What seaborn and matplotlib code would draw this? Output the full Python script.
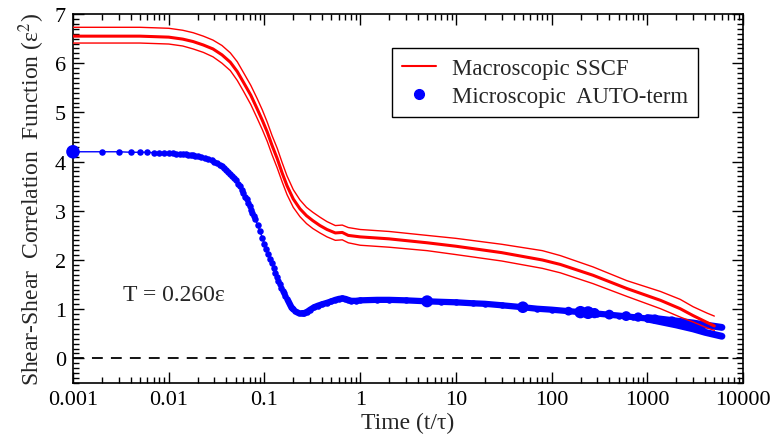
import numpy as np
import pandas as pd
import matplotlib
matplotlib.use("Agg")
import matplotlib.pyplot as plt
from matplotlib.ticker import LogLocator, MultipleLocator, FixedLocator, FixedFormatter, NullFormatter
from matplotlib.lines import Line2D
import seaborn as sns

# ---------------- data ----------------
red_t = [0.001, 0.005, 0.01, 0.014, 0.018, 0.023, 0.029, 0.036, 0.044, 0.052, 0.06, 0.072,
         0.084, 0.095, 0.107, 0.12, 0.136, 0.153, 0.172, 0.2,
         0.235, 0.275, 0.32, 0.38, 0.45, 0.55, 0.65, 0.75, 1, 2, 5, 10, 30, 80, 123, 270, 610,
         1370, 2200, 3000, 4200, 5000]
red_mid = [6.55, 6.55, 6.53, 6.49, 6.44, 6.37, 6.29, 6.17, 6.02, 5.83, 5.62, 5.35,
           5.07, 4.84, 4.60, 4.33, 4.06, 3.77, 3.51, 3.24,
           3.04, 2.90, 2.80, 2.70, 2.62, 2.55, 2.56, 2.50, 2.47, 2.43, 2.35, 2.28, 2.15, 2.00, 1.91, 1.69, 1.42,
           1.18, 1.01, 0.87, 0.73, 0.66]
red_up = [6.73, 6.73, 6.71, 6.67, 6.62, 6.55, 6.47, 6.36, 6.21, 6.03, 5.82, 5.55,
          5.28, 5.05, 4.80, 4.53, 4.27, 3.98, 3.71, 3.43,
          3.22, 3.07, 2.97, 2.87, 2.78, 2.70, 2.71, 2.66, 2.62, 2.58, 2.50, 2.44, 2.32, 2.19, 2.09, 1.86, 1.58,
          1.36, 1.20, 1.05, 0.92, 0.86]
red_lo = [6.41, 6.41, 6.39, 6.35, 6.29, 6.22, 6.13, 6.00, 5.85, 5.65, 5.44, 5.16,
          4.88, 4.65, 4.41, 4.14, 3.87, 3.59, 3.33, 3.07,
          2.88, 2.74, 2.64, 2.55, 2.47, 2.40, 2.41, 2.35, 2.30, 2.26, 2.19, 2.11, 1.98, 1.83, 1.74, 1.52, 1.26,
          1.01, 0.84, 0.74, 0.62, 0.57]

auto_t = [0.001, 0.002, 0.003, 0.004, 0.005, 0.006, 0.007, 0.008, 0.009,
          0.010, 0.011, 0.012, 0.013, 0.014, 0.015, 0.016, 0.017, 0.018, 0.019, 0.020,
          0.022, 0.024, 0.026, 0.028, 0.030, 0.032, 0.034, 0.036,
          0.038, 0.040, 0.042, 0.044, 0.046, 0.048, 0.050, 0.053, 0.055, 0.058, 0.060,
          0.063, 0.065, 0.068, 0.070, 0.073, 0.075, 0.078, 0.080, 0.085,
          0.09, 0.095, 0.10, 0.105, 0.11, 0.115, 0.12, 0.125, 0.13, 0.135, 0.14, 0.145,
          0.15, 0.155, 0.16, 0.165, 0.17, 0.175, 0.18, 0.185, 0.19, 0.195, 0.20, 0.21,
          0.22, 0.23, 0.24, 0.25, 0.26, 0.28, 0.30, 0.33, 0.36, 0.40, 0.45, 0.50, 0.55, 0.60,
          0.65, 0.70, 0.75, 0.80, 0.90, 1.0, 1.5, 2, 3, 5, 7, 10, 15, 20, 30, 50,
          70, 100, 150, 200, 300, 500, 700, 1000]
auto_v = [4.20, 4.20, 4.20, 4.19, 4.19, 4.19, 4.18, 4.18, 4.18,
          4.17, 4.17, 4.16, 4.16, 4.15, 4.15, 4.14, 4.13, 4.13, 4.12, 4.11,
          4.10, 4.08, 4.06, 4.03, 4.00, 3.97, 3.94, 3.91,
          3.87, 3.83, 3.79, 3.75, 3.71, 3.67, 3.62, 3.55, 3.50, 3.42, 3.37,
          3.29, 3.24, 3.16, 3.10, 3.02, 2.96, 2.89, 2.84, 2.71,
          2.58, 2.45, 2.33, 2.23, 2.13, 2.03, 1.93, 1.83, 1.74, 1.66, 1.58, 1.51,
          1.44, 1.38, 1.32, 1.26, 1.21, 1.16, 1.12, 1.08, 1.05, 1.02, 1.00, 0.97,
          0.95, 0.93, 0.92, 0.92, 0.92, 0.95, 0.99, 1.04, 1.07, 1.10, 1.13, 1.16, 1.19, 1.21,
          1.22, 1.21, 1.19, 1.17, 1.17, 1.18, 1.19, 1.19, 1.18, 1.16, 1.15, 1.14, 1.12, 1.11, 1.08, 1.04,
          1.01, 0.99, 0.96, 0.94, 0.91, 0.87, 0.84, 0.81]
tail_t = [1000, 2000, 3000, 4000, 6000]
tail_up = [0.83, 0.76, 0.72, 0.68, 0.63]
tail_lo = [0.80, 0.68, 0.60, 0.53, 0.45]
big_t = [0.001, 5, 50, 150, 200, 240, 280, 400, 600, 800, 1200, 1800]
big_v = [4.20, 1.16, 1.04, 0.96, 0.94, 0.93, 0.92, 0.89, 0.86, 0.84, 0.80, 0.76]
big_s = [95, 75, 70, 40, 80, 85, 55, 50, 50, 45, 45, 45]

x_ticks = [0.001, 0.01, 0.1, 1, 10, 100, 1000, 10000]
x_labels = ["0.001", "0.01", "0.1", "1", "10", "100", "1000", "10000"]
y_ticks = [0, 1, 2, 3, 4, 5, 6, 7]

# ---------------- style ----------------
sns.set_theme(style="ticks")
plt.rcParams["font.family"] = ["Liberation Serif", "DejaVu Serif"]
plt.rcParams["mathtext.fontset"] = "stix"
plt.rcParams["xtick.direction"] = "in"
plt.rcParams["ytick.direction"] = "in"

fig = plt.figure(figsize=(7.73, 4.39), dpi=100)
ax = fig.add_axes([0.0944, 0.1253, 0.8670, 0.8405])

BLUE = "#0000ff"
RED = "#ff0000"

red_df = pd.DataFrame({"t": red_t, "mid": red_mid, "up": red_up, "lo": red_lo})
auto_df = pd.DataFrame({"t": auto_t, "v": auto_v})
tail_df = pd.DataFrame({"t": tail_t, "up": tail_up, "lo": tail_lo})
big_df = pd.DataFrame({"t": big_t, "v": big_v, "s": big_s})

# zero line
ax.axhline(0, color="black", lw=1.3, ls=(0, (6, 4.5)), zorder=1)

# microscopic auto term
sns.lineplot(data=auto_df, x="t", y="v", ax=ax, color=BLUE, lw=1.0, zorder=3)
sns.lineplot(data=auto_df[auto_df.t >= 0.25], x="t", y="v", ax=ax, color=BLUE,
             lw=4.5, zorder=3)
ax.scatter(auto_df.t, auto_df.v, s=22, color=BLUE, lw=0, zorder=3)
sns.lineplot(data=tail_df, x="t", y="up", ax=ax, color=BLUE, lw=5, zorder=3)
sns.lineplot(data=tail_df, x="t", y="lo", ax=ax, color=BLUE, lw=5, zorder=3)
ax.fill_between(tail_df.t[:4], tail_df.lo[:4], tail_df.up[:4], color=BLUE, lw=0, zorder=3)
ax.scatter(big_df.t, big_df.v, s=big_df.s, color=BLUE, lw=0, zorder=5, clip_on=False)

# macroscopic SSCF
sns.lineplot(data=red_df, x="t", y="up", ax=ax, color=RED, lw=1.0, zorder=4)
sns.lineplot(data=red_df, x="t", y="lo", ax=ax, color=RED, lw=1.0, zorder=4)
sns.lineplot(data=red_df, x="t", y="mid", ax=ax, color=RED, lw=2.2, zorder=4)

ax.set_xscale("log")
ax.set_xlim(0.001, 10000)
ax.set_ylim(-0.5, 7)

ax.xaxis.set_major_locator(FixedLocator(x_ticks))
ax.xaxis.set_major_formatter(FixedFormatter(x_labels))
ax.xaxis.set_minor_locator(LogLocator(base=10, subs=np.arange(2, 10), numticks=20))
ax.xaxis.set_minor_formatter(NullFormatter())
ax.yaxis.set_major_locator(FixedLocator(y_ticks))
ax.yaxis.set_minor_locator(MultipleLocator(0.1))

ax.tick_params(which="both", top=True, right=True, direction="in", colors="black",
               labelsize=16, width=1.0)
ax.tick_params(which="major", length=8, pad=5)
ax.tick_params(which="minor", length=4)
for sp in ax.spines.values():
    sp.set_linewidth(1.2)
    sp.set_color("black")

ax.set_xlabel(r"Time (t/τ)", fontsize=17, labelpad=2)
ax.set_ylabel("Shear-Shear  Correlation  Function (ε$^{2}$)", fontsize=17, labelpad=6)

ax.text(0.0033, 1.3, "T = 0.260ε", fontsize=17, va="center", ha="left")

handles = [Line2D([], [], color=RED, lw=1.5),
           Line2D([], [], color=BLUE, marker="o", ls="none", ms=7)]
leg = ax.legend(handles, ["Macroscopic SSCF", "Microscopic  AUTO-term"],
                loc="upper right", bbox_to_anchor=(0.933, 0.908), borderaxespad=0,
                fontsize=16.4, frameon=True, fancybox=False, edgecolor="black",
                framealpha=1, handlelength=1.5, borderpad=0.45, labelspacing=0.3,
                handletextpad=0.7)
leg.get_frame().set_linewidth(1.0)

fig.savefig("out.png", dpi=100)
